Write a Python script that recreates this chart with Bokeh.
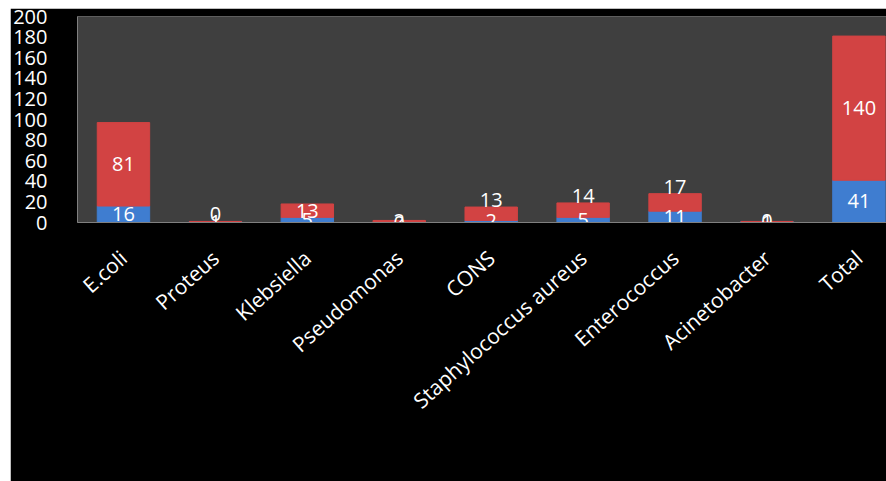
import math
from bokeh.plotting import figure
from bokeh.models import Range1d, FixedTicker, ColumnDataSource, Legend, LegendItem
from bokeh.core.properties import value
from bokeh.embed import file_html
from bokeh.resources import INLINE

categories = ["E.coli", "Proteus", "Klebsiella", "Pseudomonas", "CONS",
              "Staphylococcus aureus", "Enterococcus", "Acinetobacter", "Total"]
male = [16, 1, 5, 0, 2, 5, 11, 1, 41]
female = [81, 0, 13, 2, 13, 14, 17, 0, 140]
y_ticks = list(range(0, 201, 20))

BLUE = "#3f7dd0"
RED = "#d24343"
FONT = "Open Sans"

x = list(range(len(categories)))
src = ColumnDataSource(dict(x=x, male=male, female=female))

p = figure(frame_width=809, frame_height=206, min_border_left=67, min_border_top=8,
           min_border_right=0, min_border_bottom=0,
           x_range=Range1d(-0.5, 8.3), y_range=Range1d(0, 200),
           output_backend="svg", toolbar_location=None)
p.margin = (8, 0, 0, 10)
p.background_fill_color = "#3f3f3f"
p.border_fill_color = "black"
p.outline_line_color = None
p.grid.visible = False

rs = p.vbar_stack(["male", "female"], x="x", width=0.57, color=[BLUE, RED], source=src)

# labels
ml_y = [m / 2 for m in male]
mlab = ColumnDataSource(dict(x=x, y=ml_y, t=[str(v) for v in male]))
p.text(x="x", y="y", text="t", source=mlab, text_color="white", text_font=value(FONT),
       text_font_size="20px", text_align="center", text_baseline="middle")

in_x, in_y, in_t, ab_x, ab_y, ab_t = [], [], [], [], [], []
for i, (m, f) in enumerate(zip(male, female)):
    if f >= 20 or (f == 13 and m == 5) or (m == 0) or (f == 0 and m == 1 and i == 7):
        in_x.append(i); in_y.append(m + f / 2); in_t.append(str(f))
    else:
        ab_x.append(i); ab_y.append(m + f); ab_t.append(str(f))
p.text(x="x", y="y", text="t", source=ColumnDataSource(dict(x=in_x, y=in_y, t=in_t)),
       text_color="white", text_font=value(FONT), text_font_size="20px",
       text_align="center", text_baseline="middle")
p.text(x="x", y="y", text="t", source=ColumnDataSource(dict(x=ab_x, y=ab_y, t=ab_t)),
       text_color="white", text_font=value(FONT), text_font_size="20px",
       text_align="center", text_baseline="bottom")

# axes
p.yaxis.ticker = FixedTicker(ticks=y_ticks)
p.yaxis.major_tick_line_color = None
p.yaxis.minor_tick_line_color = None
p.yaxis.axis_line_color = "#808080"
p.yaxis.major_label_text_color = "white"
p.yaxis.major_label_text_font = FONT
p.yaxis.major_label_text_font_size = "20px"
p.yaxis.major_label_standoff = 24

p.xaxis.ticker = FixedTicker(ticks=x)
p.xaxis.major_label_overrides = {i: c for i, c in enumerate(categories)}
p.xaxis.major_label_orientation = 0.73
p.xaxis.major_tick_line_color = None
p.xaxis.minor_tick_line_color = None
p.xaxis.axis_line_color = "#808080"
p.xaxis.major_label_text_color = "white"
p.xaxis.major_label_text_font = FONT
p.xaxis.major_label_text_font_size = "21px"
p.xaxis.major_label_standoff = 26

legend = Legend(items=[LegendItem(label="male", renderers=[rs[0]]),
                       LegendItem(label="Female", renderers=[rs[1]])],
                orientation="horizontal", location="center",
                background_fill_color="black", background_fill_alpha=0,
                border_line_alpha=0,
                label_text_color="white", label_text_font=FONT,
                label_text_font_size="20px", glyph_width=12, glyph_height=12,
                padding=2, spacing=22, label_standoff=8, margin=0)
p.add_layout(legend, "below")

open("out.html", "w").write(file_html(p, INLINE))
